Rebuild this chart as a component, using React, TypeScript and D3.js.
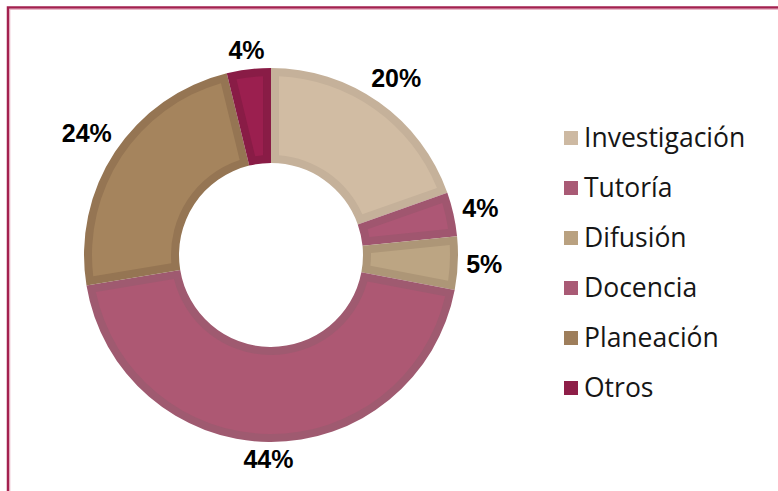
import React from "react";
import * as d3 from "d3";

const categories = ["Investigación", "Tutoría", "Difusión", "Docencia", "Planeación", "Otros"];
const values = [19.6, 3.8, 4.6, 44.4, 23.8, 3.8];
const fillColors = ["#d1bca3", "#ad5775", "#bca583", "#ad5873", "#a5845d", "#9b1f4f"];
const borderColors = ["#c5b19a", "#a0566f", "#ad9677", "#9f5a70", "#957553", "#891c46"];
const legendColors = ["#cdb9a2", "#a95a75", "#b9a180", "#a95a75", "#9e7e5b", "#8e1e48"];

const W = 778;
const H = 491;
const cx = 271;
const cy = 255;
const rOuter = 187;
const rInner = 92;
const border = 8;
const labelFont = 25;

export default function App() {
  const total = d3.sum(values);
  const pie = d3.pie<number>().sort(null).value((d) => d);
  const arcs = pie(values);
  const outerArc = d3.arc<d3.PieArcDatum<number>>().innerRadius(rInner).outerRadius(rOuter);
  const padR = 100;
  const innerArc = d3
    .arc<d3.PieArcDatum<number>>()
    .innerRadius(rInner + border)
    .outerRadius(rOuter - border)
    .padRadius(padR)
    .padAngle((2 * border) / padR);

  const legendY = d3.scalePoint<string>().domain(categories).range([138, 388]);

  return (
    <svg
      width={W}
      height={H}
      style={{ position: "fixed", left: 0, top: 0, background: "#fff" }}
    >
      <rect x={0} y={0} width={W} height={H} fill="#fff" />
      <rect x={8} y={7.5} width={900} height={700} fill="none" stroke="#a3214f" strokeWidth={2.5} />
      <rect x={9.75} y={9.25} width={900} height={700} fill="none" stroke="#e3a3b8" strokeWidth={1} />
      <g transform={`translate(${cx},${cy})`}>
        {arcs.map((a, i) => (
          <g key={categories[i]}>
            <path d={outerArc(a) || ""} fill={borderColors[i]} />
            <path d={innerArc(a) || ""} fill={fillColors[i]} />
          </g>
        ))}
        {arcs.map((a, i) => {
          const pct = Math.round((a.value / total) * 100);
          const text = `${pct}%`;
          const tw = (String(pct).length * 0.556 + 0.889) * labelFont;
          const mid = (a.startAngle + a.endAngle) / 2;
          const s = Math.sin(mid);
          const c = -Math.cos(mid);
          const dist = rOuter + 8 + Math.abs((tw / 2) * s) + Math.abs(9 * c);
          return (
            <text
              key={"l" + i}
              x={dist * s}
              y={dist * c}
              textAnchor="middle"
              dominantBaseline="central"
              fontFamily="'Liberation Sans', Arial, sans-serif"
              fontWeight="bold"
              fontSize={labelFont}
              fill="#000"
            >
              {text}
            </text>
          );
        })}
      </g>
      <g>
        {categories.map((cat, i) => {
          const y = legendY(cat) as number;
          return (
            <g key={"lg" + cat}>
              <rect x={564} y={y - 7} width={14} height={14} fill={legendColors[i]} />
              <text
                x={584}
                y={y + 9}
                fontFamily="'Open Sans', sans-serif"
                fontSize={26.5}
                fill="#161616"
              >
                {cat}
              </text>
            </g>
          );
        })}
      </g>
    </svg>
  );
}
